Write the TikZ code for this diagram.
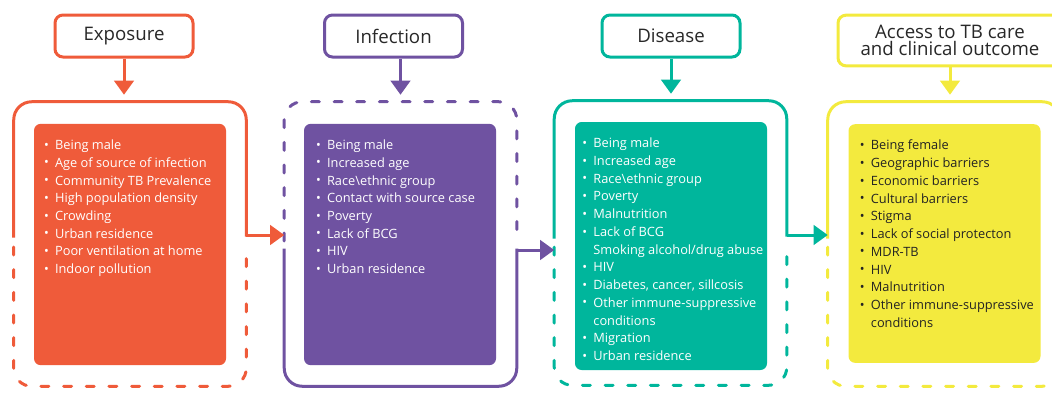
\documentclass[tikz,border=0pt]{standalone}
\usepackage{fontspec}
\setmainfont{Open Sans}
\usetikzlibrary{arrows.meta, positioning}
\definecolor{exporange}{RGB}{239, 91, 58}
\definecolor{infpurple}{RGB}{111, 82, 161}
\definecolor{disteal}{RGB}{0, 182, 156}
\definecolor{accyellow}{RGB}{243, 234, 62}
\definecolor{titlegray}{RGB}{40, 40, 40}
\definecolor{listgray}{RGB}{35, 35, 35}
\newcommand{\bul}{\makebox[8.3pt][l]{\raisebox{0.3pt}{\fontsize{9.5}{9.5}\selectfont\textbullet}}}
\newcommand{\nob}{\hspace*{8.3pt}}

\begin{document}
\begin{tikzpicture}[x=0.75pt, y=-0.75pt,
  titlebox/.style={draw=#1, line width=2.25pt, fill=white, rounded corners=6pt, minimum width=103.5pt, minimum height=31.5pt, inner sep=0pt, align=center, text=titlegray, font=\fontsize{14}{12.5}\selectfont},
  outerframe/.style={minimum width=174pt, minimum height=213pt, inner sep=0pt},
  innerbox/.style={fill=#1, rounded corners=5pt, minimum width=144pt, minimum height=181pt, inner sep=0pt},
  flist/.style={anchor=north west, align=left, inner sep=0pt, text=#1, font=\fontsize{9.6}{13.3}\selectfont},
  solidpart/.style={draw=#1, line width=2.25pt, rounded corners=13.5pt, line cap=rect},
  dashpart/.style={draw=#1, line width=2.25pt, rounded corners=13.5pt, dash pattern=on 6pt off 11pt, line cap=round},
  flowarrow/.style={draw=#1, line width=2.25pt, -{Triangle[length=10.5pt, width=14.5pt]}}
]
  \clip (0,0) rectangle (1052,394);

  % Stage titles
  \node[titlebox=exporange] (expo) at (124,36) {Exposure};
  \node[titlebox=infpurple] (infe) at (393.5,36) {Infection};
  \node[titlebox=disteal] (dise) at (671,36) {Disease};
  \node[titlebox=accyellow, minimum width=168pt, minimum height=38pt] (acce) at (950,40.5) {Access to TB care\\and clinical outcome};

  % Outer frames
  \node[outerframe] (expframe) at (130,244) {};
  \node[outerframe] (infframe) at (400.5,244) {};
  \node[outerframe] (disframe) at (670.5,243) {};
  \node[outerframe] (accframe) at (944,244) {};

  \draw[solidpart=exporange] (expframe.west |- 0,236) -- (expframe.north west) -- (expframe.north east) -- (expframe.east |- 0,235);
  \draw[dashpart=exporange] (expframe.west |- 0,247) -- (expframe.south west) -- (expframe.south east) -- (expframe.east |- 0,247);

  \draw[dashpart=infpurple] (infframe.west |- 0,241) -- (infframe.north west) -- (infframe.north east) -- (infframe.east |- 0,241);
  \draw[solidpart=infpurple] (infframe.west |- 0,250) -- (infframe.south west) -- (infframe.south east) -- (infframe.east |- 0,250);

  \draw[solidpart=disteal] (disframe.west |- 0,237) -- (disframe.north west) -- (disframe.north east) -- (disframe.east |- 0,235);
  \draw[dashpart=disteal] (disframe.west |- 0,247) -- (disframe.south west) -- (disframe.south east) -- (disframe.east |- 0,247);

  \draw[solidpart=accyellow] (accframe.west |- 0,237) -- (accframe.north west) -- (accframe.north east) -- (accframe.east |- 0,237);
  \draw[dashpart=accyellow] (accframe.west |- 0,247) -- (accframe.south west) -- (accframe.south east) -- (accframe.east |- 0,247);

  % Filled boxes
  \node[innerbox=exporange] (expbox) at (130,244.5) {};
  \node[innerbox=infpurple] (infbox) at (400,244.5) {};
  \node[innerbox=disteal, minimum height=186pt] (disbox) at (671,246) {};
  \node[innerbox=accyellow, minimum height=179pt] (accbox) at (944.5,243.5) {};

  % Risk factor lists
  \node[flist=white] (explist) at ([xshift=7.5pt, yshift=-12pt]expbox.north west) {
    \bul Being male\\
    \bul Age of source of infection\\
    \bul Community TB Prevalence\\
    \bul High population density\\
    \bul Crowding\\
    \bul Urban residence\\
    \bul Poor ventilation at home\\
    \bul Indoor pollution};
  \node[flist=white] (inflist) at ([xshift=9pt, yshift=-12pt]infbox.north west) {
    \bul Being male\\
    \bul Increased age\\
    \bul Race\textbackslash ethnic group\\
    \bul Contact with source case\\
    \bul Poverty\\
    \bul Lack of BCG\\
    \bul HIV\\
    \bul Urban residence};
  \node[flist=white] (dislist) at ([xshift=5.5pt, yshift=-12pt]disbox.north west) {
    \bul Being male\\
    \bul Increased age\\
    \bul Race\textbackslash ethnic group\\
    \bul Poverty\\
    \bul Malnutrition\\
    \bul Lack of BCG\\
    \nob Smoking alcohol/drug abuse\\
    \bul HIV\\
    \bul Diabetes, cancer, sillcosis\\
    \bul Other immune-suppressive\\
    \nob conditions\\
    \bul Migration\\
    \bul Urban residence};
  \node[flist=listgray] (acclist) at ([xshift=8.5pt, yshift=-12pt]accbox.north west) {
    \bul Being female\\
    \bul Geographic barriers\\
    \bul Economic barriers\\
    \bul Cultural barriers\\
    \bul Stigma\\
    \bul Lack of social protecton\\
    \bul MDR-TB\\
    \bul HIV\\
    \bul Malnutrition\\
    \bul Other immune-suppressive\\
    \nob conditions};

  % Arrows from titles
  \draw[flowarrow=exporange, shorten >=5.25pt] (expo.south) -- (expo.south |- expframe.north);
  \draw[flowarrow=infpurple, shorten >=5.25pt] (infframe.north |- infe.south) -- (infframe.north);
  \draw[flowarrow=disteal, shorten >=5.25pt] (dise.south) -- (dise.south |- disframe.north);
  \draw[flowarrow=accyellow, shorten >=5.25pt] (acce.south) -- (acce.south |- accframe.north);

  % Arrows between stages
  \draw[flowarrow=exporange] (expframe.east |- 0,235) -- (infframe.west |- 0,235);
  \draw[flowarrow=infpurple] (infframe.east |- 0,250) -- (disframe.west |- 0,250);
  \draw[flowarrow=disteal] (disframe.east |- 0,235) -- (accframe.west |- 0,235);
\end{tikzpicture}
\end{document}
